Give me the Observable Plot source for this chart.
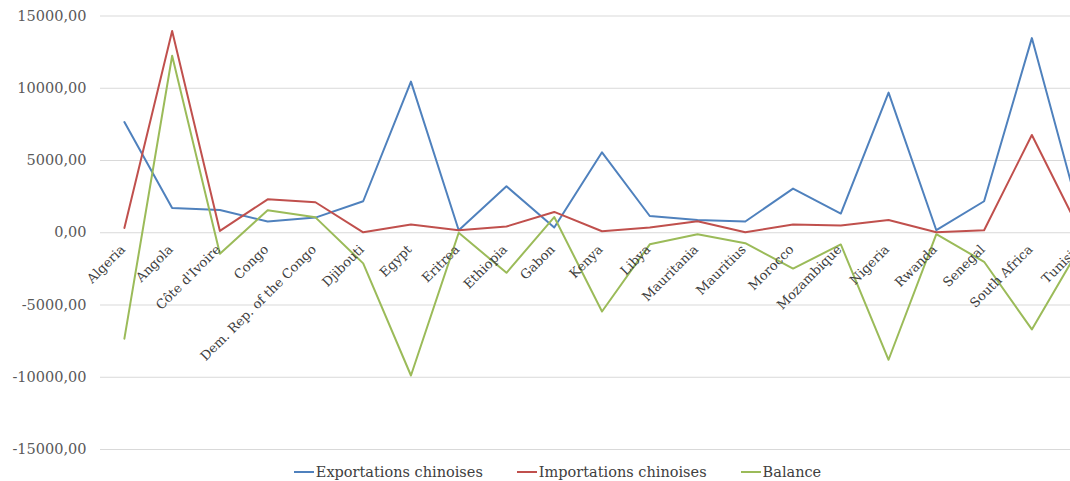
<!DOCTYPE html>
<html>
<head>
<meta charset="utf-8">
<script src="https://cdn.jsdelivr.net/npm/d3@7"></script>
<script src="https://cdn.jsdelivr.net/npm/@observablehq/plot@0.6"></script>
<style>
  html, body { margin: 0; padding: 0; background: #fff; overflow: hidden; width: 1070px; height: 481px; }
  #chart svg { display: block; max-width: none !important; }
  #legend { display: flex; justify-content: center; gap: 34px; font-family: "DejaVu Serif", serif; font-size: 14.5px; line-height: 18px; color: #404040; height: 18px; padding-top: 3px; align-items: center; margin-left: 45px; }
  .item { display: flex; align-items: center; }
  .sw { display: inline-block; width: 20px; height: 2px; margin-right: 2px; }
</style>
</head>
<body>
<div id="chart"></div>
<div id="legend"></div>
<script>
const countries = ["Algeria", "Angola", "Côte d'Ivoire", "Congo", "Dem. Rep. of the Congo", "Djibouti", "Egypt", "Eritrea", "Ethiopia", "Gabon", "Kenya", "Libya", "Mauritania", "Mauritius", "Morocco", "Mozambique", "Nigeria", "Rwanda", "Senegal", "South Africa", "Tunisia"];
const exportsCN = [7660, 1715, 1580, 775, 1050, 2180, 10460, 175, 3215, 360, 5565, 1160, 885, 775, 3055, 1330, 9700, 175, 2180, 13470, 1280];
const importsCN = [330, 13960, 125, 2315, 2110, 30, 565, 175, 430, 1440, 105, 360, 795, 35, 565, 500, 885, 35, 175, 6765, 180];
const balance = [-7330, 12250, -1450, 1560, 1065, -2120, -9880, 0, -2770, 1085, -5450, -800, -110, -720, -2480, -810, -8790, -100, -2010, -6690, -1050];
const seriesNames = ["Exportations chinoises", "Importations chinoises", "Balance"];
const seriesColors = ["#4F81BD", "#C0504D", "#9BBB59"];
const yTicks = [-15000, -10000, -5000, 0, 5000, 10000, 15000];

const seriesValues = [exportsCN, importsCN, balance];
const rows = [];
seriesNames.forEach((s, i) => countries.forEach((c, j) => rows.push({series: s, country: c, value: seriesValues[i][j]})));

const fmt = v => d3.format(".2f")(v).replace("\u2212", "-").replace(".", ",");

const chart = Plot.plot({
  width: 1110,
  height: 460,
  marginLeft: 100,
  marginRight: 7,
  marginTop: 15.5,
  marginBottom: 11,
  style: {fontFamily: "DejaVu Serif, serif", background: "#fff"},
  x: {type: "point", domain: countries, padding: 0.5, round: false, axis: null},
  y: {domain: [-15000, 15000], axis: null},
  color: {domain: seriesNames, range: seriesColors},
  marks: [
    Plot.gridY(yTicks, {stroke: "#d9d9d9", strokeOpacity: 1, strokeWidth: 1}),
    Plot.text(yTicks, {x: null, y: d => d, text: d => fmt(d), frameAnchor: "left", textAnchor: "end", dx: -14, fill: "#595959", fontSize: 14.5}),
    Plot.line(rows, {x: "country", y: "value", z: "series", stroke: "series", strokeWidth: 2, curve: "linear"}),
    Plot.text(countries, {x: d => d, y: () => 0, text: d => d, rotate: -45, textAnchor: "end", lineAnchor: "top", dx: -5, dy: 11, fill: "#404040", fontSize: 13})
  ]
});
chart.style.maxWidth = "none";
document.getElementById("chart").appendChild(chart);

const legend = document.getElementById("legend");
seriesNames.forEach((s, i) => {
  const it = document.createElement("span");
  it.className = "item";
  const sw = document.createElement("span");
  sw.className = "sw";
  sw.style.background = seriesColors[i];
  it.appendChild(sw);
  it.appendChild(document.createTextNode(s));
  legend.appendChild(it);
});
</script>
</body>
</html>
